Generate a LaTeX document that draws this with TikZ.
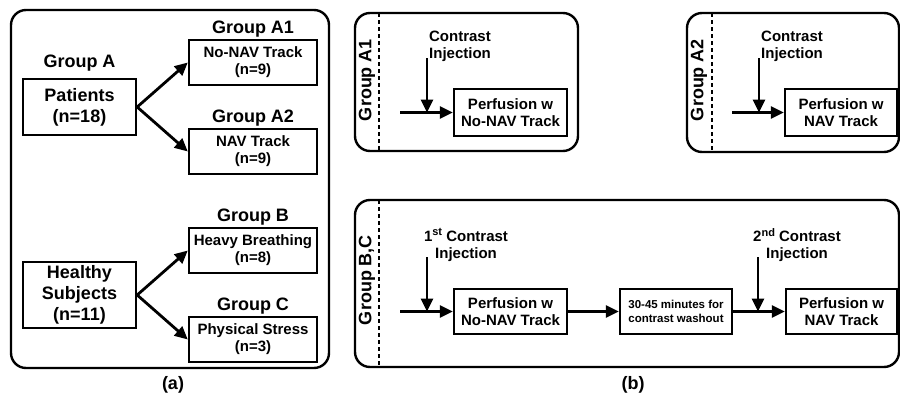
\documentclass[tikz,border=0pt]{standalone}
\usepackage{fontspec}
\setmainfont{Liberation Sans}
\usetikzlibrary{arrows.meta}
\newcommand{\supx}[1]{\raisebox{5.5pt}{\fontsize{11}{11}\selectfont #1}}
\begin{document}
\begin{tikzpicture}[x=1pt,y=-1pt,
  box/.style={draw, line width=2.4pt, inner sep=0pt, align=center, font=\bfseries\fontsize{15}{17}\selectfont},
  bigbox/.style={box, font=\bfseries\fontsize{18}{21}\selectfont},
  frame/.style={draw, line width=2.4pt, rounded corners=15pt},
  lbl/.style={font=\bfseries\fontsize{18}{21}\selectfont, inner sep=0pt},
  txt/.style={font=\bfseries\fontsize{15}{17}\selectfont, inner sep=0pt, align=center},
  arr/.style={line width=2.8pt, -{Triangle[length=13pt,width=12pt]}},
  sepline/.style={line width=2.4pt, dash pattern=on 4pt off 3pt},
  ]
\useasboundingbox (0,0) rectangle (900,399);

% ---------- panel (a) ----------
\draw[frame] (11,10) rectangle (329,368);
\node[lbl] (ga) at (79.5,63) {Group A};
\node[bigbox, minimum width=113pt, minimum height=56pt] (pat) at (79.5,107) {Patients\\(n=18)};
\node[lbl] (la1) at (253,29) {Group A1};
\node[box, minimum width=128pt, minimum height=45pt] (a1) at (253,62.5) {No-NAV Track\\(n=9)};
\node[lbl] (la2) at (253,118) {Group A2};
\node[box, minimum width=128pt, minimum height=45pt] (a2) at (253,151.5) {NAV Track\\(n=9)};
\node[lbl] (lb) at (253,217) {Group B};
\node[box, minimum width=128pt, minimum height=45pt] (gb) at (253,250.5) {Heavy Breathing\\(n=8)};
\node[lbl] (lc) at (253,306) {Group C};
\node[box, minimum width=128pt, minimum height=45pt] (gc) at (253,339.5) {Physical Stress\\(n=3)};
\node[bigbox, minimum width=113pt, minimum height=66pt] (hs) at (79.5,295) {Healthy\\Subjects\\(n=11)};
\draw[arr] (pat.east) -- (a1.west);
\draw[arr] (pat.east) -- (a2.west);
\draw[arr] (hs.east) -- (gb.west);
\draw[arr] (hs.east) -- (gc.west);
\node[lbl] (la) at (173,385) {(a)};

% ---------- panel (b) top left ----------
\draw[frame] (355,13) rectangle (578,151);
\draw[sepline] (379,13) -- (379,151);
\node[lbl, rotate=90] (tga1) at (367,80) {Group A1};
\node[txt] (c1) at (460,46) {Contrast\\Injection};
\node[box, minimum width=113pt, minimum height=47pt] (p1) at (510.5,112.5) {Perfusion w\\No-NAV Track};
\coordinate (c1s) at (427,58);
\coordinate (c1e) at (427,112.5);
\coordinate (h1) at (400,112.5);
\draw[arr] (c1s) -- (c1e);
\draw[arr] (h1) -- (p1.west);

% ---------- panel (b) top right ----------
\draw[frame] (687,13) rectangle (899,152);
\draw[sepline] (712,13) -- (712,152);
\node[lbl, rotate=90] (tga2) at (699,80) {Group A2};
\node[txt] (c2) at (792,46) {Contrast\\Injection};
\node[box, minimum width=112pt, minimum height=47pt] (p2) at (841,112.5) {Perfusion w\\NAV Track};
\coordinate (c2s) at (759,58);
\coordinate (c2e) at (759,112.5);
\coordinate (h2) at (732,112.5);
\draw[arr] (c2s) -- (c2e);
\draw[arr] (h2) -- (p2.west);

% ---------- panel (b) bottom ----------
\draw[frame] (355,200) rectangle (899,367);
\draw[sepline] (379,200) -- (379,367);
\node[lbl, rotate=90] (tgbc) at (367,280) {Group B,C};
\node[txt] (c3) at (466,245) {1\supx{st} Contrast\\Injection};
\node[txt] (c4) at (797,245) {2\supx{nd} Contrast\\Injection};
\node[box, minimum width=113pt, minimum height=45pt] (p3) at (510.5,311.5) {Perfusion w\\No-NAV Track};
\node[box, minimum width=112pt, minimum height=45pt, font=\bfseries\fontsize{11.5}{13.5}\selectfont] (w) at (676,311.5) {30-45 minutes for\\contrast washout};
\node[box, minimum width=111pt, minimum height=45pt] (p4) at (841.5,311.5) {Perfusion w\\NAV Track};
\coordinate (c3s) at (427,257);
\coordinate (c3e) at (427,311.5);
\coordinate (h3) at (400,311.5);
\coordinate (c4s) at (758,257);
\coordinate (c4e) at (758,311.5);
\draw[arr] (c3s) -- (c3e);
\draw[arr] (h3) -- (p3.west);
\draw[arr] (p3.east) -- (w.west);
\draw[arr] (c4s) -- (c4e);
\draw[arr] (w.east) -- (p4.west);
\node[lbl] (lbb) at (633,385) {(b)};
\end{tikzpicture}
\end{document}
